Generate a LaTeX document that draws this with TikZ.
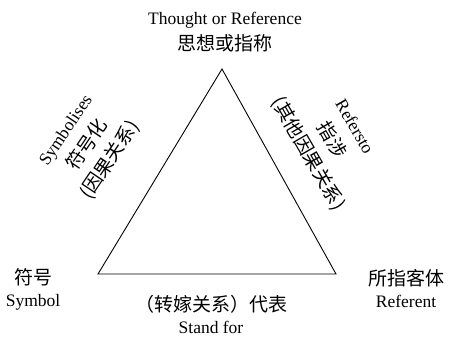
\documentclass[tikz,border=0pt]{standalone}
\usepackage{fontspec}
\setmainfont{Liberation Serif}
\newfontfamily\cjk{Noto Sans CJK SC}
\usepackage{tikz}

\begin{document}
\begin{tikzpicture}[
    x=1pt, y=-1pt,
    corner/.style={
        align=center,
        inner sep=0pt,
        font=\fontsize{17.5}{22}\selectfont
    },
    side/.style={
        align=center,
        inner sep=0pt,
        font=\fontsize{17.5}{27}\selectfont
    }
]
    \useasboundingbox (0,0) rectangle (449,338);

    % --- TRIANGLE ---
    \coordinate (thought) at (222,69);
    \coordinate (symbol) at (98,274);
    \coordinate (referent) at (336,274);
    \draw [line width=0.9pt, line join=miter] (thought) -- (symbol) -- (referent) -- cycle;

    % --- CORNERS ---
    % Top
    \node [corner, font=\fontsize{17.5}{26}\selectfont] (top) at (225,32)
        {Thought or Reference \\ {\fontsize{19}{22}\selectfont\cjk 思想或指称}};
    % Left
    \node [corner] (sym) at (33,289)
        {{\fontsize{19}{22}\selectfont\cjk 符号} \\ Symbol};
    % Right
    \node [corner] (ref) at (406,289)
        {{\fontsize{19}{22}\selectfont\cjk 所指客体} \\ Referent};

    % --- SIDES ---
    % Left side (rotated)
    \node [side, rotate=56] (symbolises) at (89,146)
        {Symbolises \\ {\fontsize{19}{22}\selectfont\cjk 符号化} \\ {\fontsize{19}{22}\selectfont\cjk (因果关系)}};
    % Right side (rotated)
    \node [side, rotate=-60] (refers) at (330,141)
        {Refersto \\ {\fontsize{19}{22}\selectfont\cjk 指涉} \\ {\fontsize{19}{22}\selectfont\cjk (其他因果关系)}};
    % Bottom side
    \node [corner] (stand) at (211,314)
        {{\fontsize{19}{22}\selectfont\cjk （转嫁关系）代表} \\ Stand for};

\end{tikzpicture}
\end{document}
